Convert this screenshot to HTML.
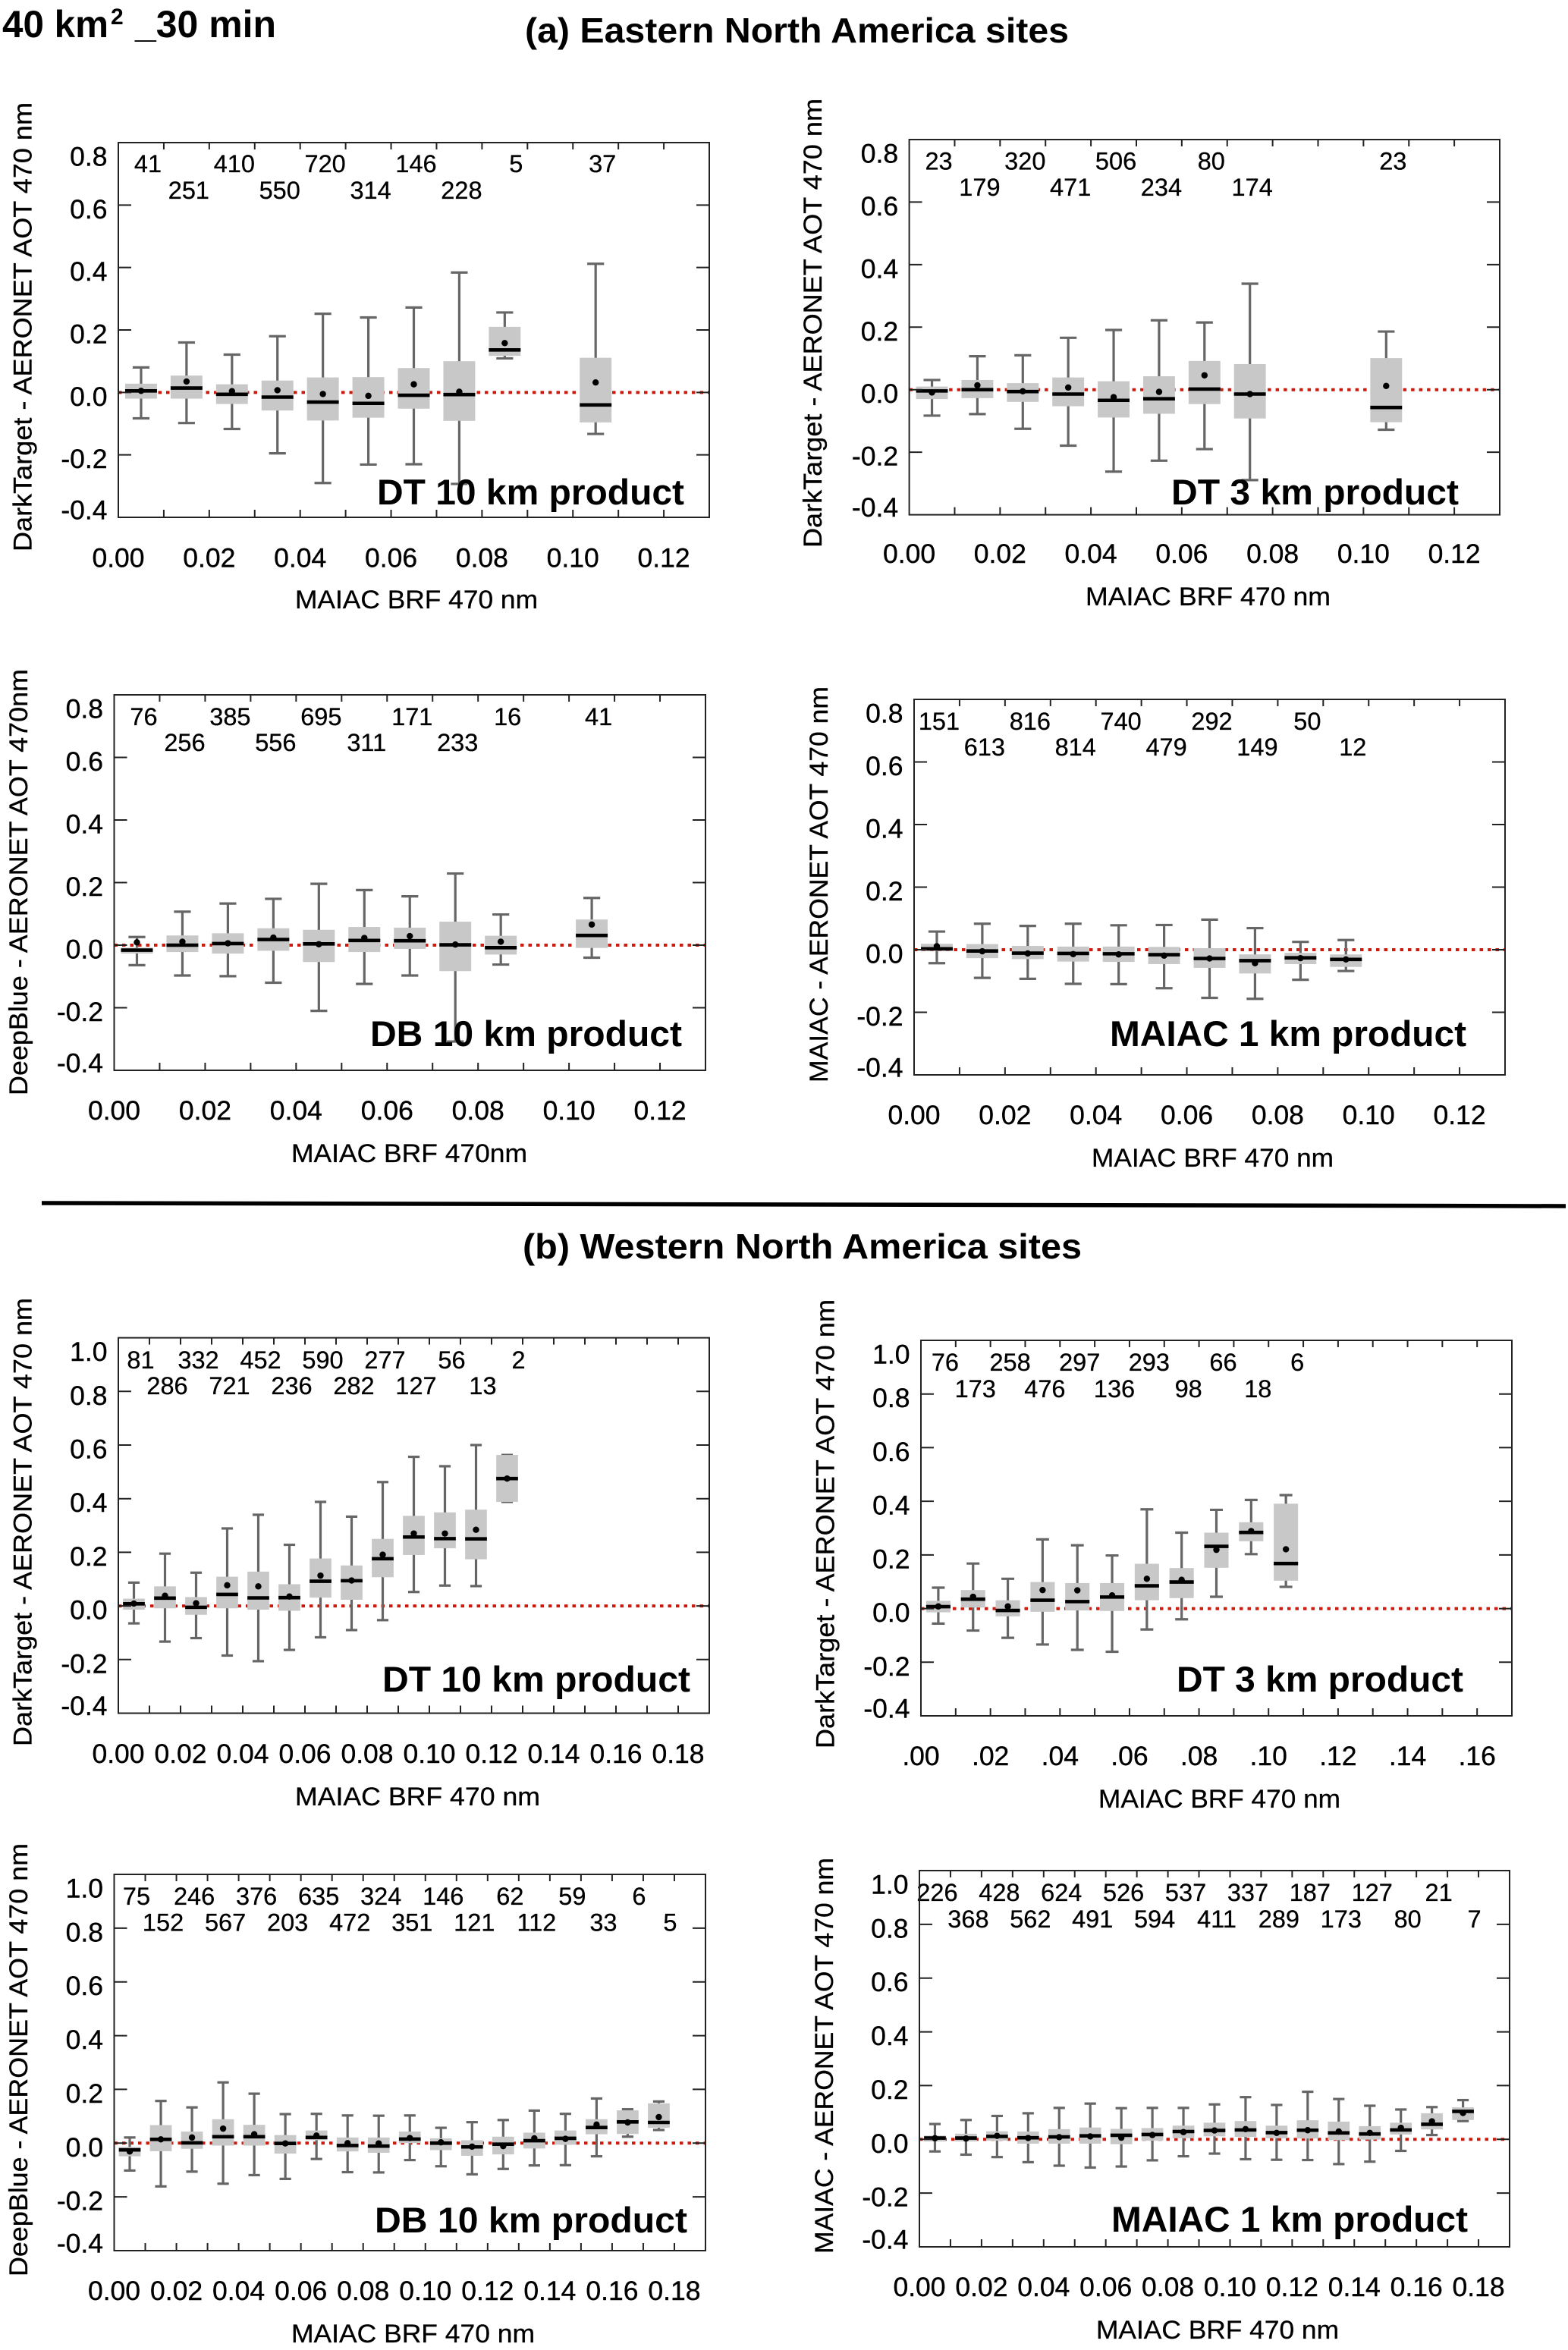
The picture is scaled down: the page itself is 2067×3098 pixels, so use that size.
<!DOCTYPE html>
<html lang="en">
<head>
<meta charset="utf-8">
<title>MAIAC BRF versus AOT differences, 40 km² 30 min</title>
<style>
html,body{margin:0;padding:0;background:#fff;}
svg{display:block;font-family:"Liberation Sans",sans-serif;}
.tick-label{font-size:35.5px;fill:#000;stroke:#000;stroke-width:.4px;}
.n-label{font-size:32.5px;fill:#000;stroke:#000;stroke-width:.3px;text-anchor:middle;}
.axis-title{font-size:34px;fill:#000;stroke:#000;stroke-width:.3px;}
.product{font-size:47px;font-weight:bold;fill:#000;}
.heading{font-size:46px;font-weight:bold;fill:#000;}
</style>
</head>
<body>
<svg id="figure" xmlns="http://www.w3.org/2000/svg" width="2067" height="3098" viewBox="0 0 2067 3098">
<rect x="0" y="0" width="2067" height="3098" fill="#fff"/>

<g>
<text x="3" y="49" font-size="50" font-weight="bold" textLength="140" lengthAdjust="spacingAndGlyphs">40 km</text>
<text x="146" y="32" font-size="30" font-weight="bold">2</text>
<text x="178" y="49" font-size="50" font-weight="bold" textLength="186" lengthAdjust="spacingAndGlyphs">_30 min</text>
</g>
<text class="heading" x="692" y="56" textLength="717" lengthAdjust="spacingAndGlyphs">(a) Eastern North America sites</text>
<line x1="55" y1="1586" x2="2064" y2="1590" stroke="#000" stroke-width="5.5"/>
<text class="heading" x="689" y="1659" textLength="737" lengthAdjust="spacingAndGlyphs">(b) Western North America sites</text>

<g>
<g id="plot-a1"></g>
<text class="axis-title" transform="translate(41.5 727) rotate(-90)" textLength="592" lengthAdjust="spacingAndGlyphs">DarkTarget - AERONET AOT 470 nm</text>
<text class="axis-title" x="389" y="802" textLength="320" lengthAdjust="spacingAndGlyphs">MAIAC BRF 470 nm</text>
<text class="product" x="497" y="665" textLength="405" lengthAdjust="spacingAndGlyphs">DT 10 km product</text>
</g>

<g>
<g id="plot-a2"></g>
<text class="axis-title" transform="translate(1083 722) rotate(-90)" textLength="592" lengthAdjust="spacingAndGlyphs">DarkTarget - AERONET AOT 470 nm</text>
<text class="axis-title" x="1431" y="798" textLength="323" lengthAdjust="spacingAndGlyphs">MAIAC BRF 470 nm</text>
<text class="product" x="1544" y="665" textLength="379" lengthAdjust="spacingAndGlyphs">DT 3 km product</text>
</g>

<g>
<g id="plot-a3"></g>
<text class="axis-title" transform="translate(36 1444) rotate(-90)" textLength="562" lengthAdjust="spacingAndGlyphs">DeepBlue - AERONET AOT 470nm</text>
<text class="axis-title" x="384" y="1532" textLength="311" lengthAdjust="spacingAndGlyphs">MAIAC BRF 470nm</text>
<text class="product" x="488" y="1379" textLength="411" lengthAdjust="spacingAndGlyphs">DB 10 km product</text>
</g>

<g>
<g id="plot-a4"></g>
<text class="axis-title" transform="translate(1091 1427) rotate(-90)" textLength="522" lengthAdjust="spacingAndGlyphs">MAIAC - AERONET AOT 470 nm</text>
<text class="axis-title" x="1439" y="1538" textLength="319" lengthAdjust="spacingAndGlyphs">MAIAC BRF 470 nm</text>
<text class="product" x="1463" y="1379" textLength="470" lengthAdjust="spacingAndGlyphs">MAIAC  1 km product</text>
</g>

<g>
<g id="plot-b1"></g>
<text class="axis-title" transform="translate(41.5 2302) rotate(-90)" textLength="591" lengthAdjust="spacingAndGlyphs">DarkTarget - AERONET AOT 470 nm</text>
<text class="axis-title" x="389" y="2380" textLength="323" lengthAdjust="spacingAndGlyphs">MAIAC BRF 470 nm</text>
<text class="product" x="504" y="2230" textLength="406" lengthAdjust="spacingAndGlyphs">DT 10 km product</text>
</g>

<g>
<g id="plot-b2"></g>
<text class="axis-title" transform="translate(1099.5 2305) rotate(-90)" textLength="592" lengthAdjust="spacingAndGlyphs">DarkTarget - AERONET AOT 470 nm</text>
<text class="axis-title" x="1448" y="2383" textLength="319" lengthAdjust="spacingAndGlyphs">MAIAC BRF 470 nm</text>
<text class="product" x="1551" y="2230" textLength="378" lengthAdjust="spacingAndGlyphs">DT 3 km product</text>
</g>

<g>
<g id="plot-b3"></g>
<text class="axis-title" transform="translate(36 3001) rotate(-90)" textLength="571" lengthAdjust="spacingAndGlyphs">DeepBlue - AERONET AOT 470 nm</text>
<text class="axis-title" x="384" y="3088" textLength="321" lengthAdjust="spacingAndGlyphs">MAIAC BRF 470 nm</text>
<text class="product" x="494" y="2943" textLength="412" lengthAdjust="spacingAndGlyphs">DB 10 km product</text>
</g>

<g>
<g id="plot-b4"></g>
<text class="axis-title" transform="translate(1098 2971) rotate(-90)" textLength="522" lengthAdjust="spacingAndGlyphs">MAIAC - AERONET AOT 470 nm</text>
<text class="axis-title" x="1445" y="3083" textLength="320" lengthAdjust="spacingAndGlyphs">MAIAC BRF 470 nm</text>
<text class="product" x="1465" y="2942" textLength="470" lengthAdjust="spacingAndGlyphs">MAIAC  1 km product</text>
</g>
</svg>

<script>
// ---- tick labels ----
const xLabels13 = ['0.00','0.02','0.04','0.06','0.08','0.10','0.12'];
const xValues13 = [0,0.02,0.04,0.06,0.08,0.10,0.12];
const xLabels19 = ['0.00','0.02','0.04','0.06','0.08','0.10','0.12','0.14','0.16','0.18'];
const xValues19 = [0,0.02,0.04,0.06,0.08,0.10,0.12,0.14,0.16,0.18];
const xLabels17 = ['.00','.02','.04','.06','.08','.10','.12','.14','.16'];
const xValues17 = [0,0.02,0.04,0.06,0.08,0.10,0.12,0.14,0.16];
const yLabelsA = ['0.8','0.6','0.4','0.2','0.0','-0.2','-0.4'];
const yValuesA = [0.8,0.6,0.4,0.2,0,-0.2,-0.4];
const yLabelsB = ['1.0','0.8','0.6','0.4','0.2','0.0','-0.2','-0.4'];
const yValuesB = [1.0,0.8,0.6,0.4,0.2,0,-0.2,-0.4];

// ---- (a) DT 10 km ----
const a1Bins = [0.005,0.015,0.025,0.035,0.045,0.055,0.065,0.075,0.085,0.105];
const a1N    = [41,251,410,550,720,314,146,228,5,37];
const a1Hi   = [0.08,0.16,0.121,0.18,0.252,0.24,0.272,0.384,0.256,0.412];
const a1Q3   = [0.028,0.054,0.026,0.038,0.048,0.049,0.078,0.1,0.21,0.111];
const a1Med  = [0.005,0.014,-0.006,-0.015,-0.031,-0.035,-0.009,-0.007,0.136,-0.04];
const a1Q1   = [-0.02,-0.02,-0.037,-0.058,-0.09,-0.081,-0.052,-0.091,0.117,-0.096];
const a1Lo   = [-0.083,-0.098,-0.117,-0.195,-0.29,-0.231,-0.23,-0.293,0.109,-0.133];
const a1Mean = [0.005,0.035,0.004,0.007,-0.005,-0.011,0.026,0.002,0.158,0.032];

// ---- (a) DT 3 km ----
const a2Bins = [0.005,0.015,0.025,0.035,0.045,0.055,0.065,0.075,0.105];
const a2N    = [23,179,320,471,506,234,80,174,23];
const a2Hi   = [0.031,0.107,0.11,0.166,0.191,0.222,0.215,0.339,0.186];
const a2Q3   = [0.01,0.031,0.021,0.039,0.027,0.043,0.092,0.082,0.101];
const a2Med  = [-0.004,0,-0.006,-0.014,-0.034,-0.029,0.002,-0.014,-0.057];
const a2Q1   = [-0.03,-0.027,-0.039,-0.053,-0.089,-0.077,-0.046,-0.092,-0.104];
const a2Lo   = [-0.083,-0.078,-0.125,-0.179,-0.262,-0.227,-0.19,-0.289,-0.128];
const a2Mean = [-0.009,0.014,-0.005,0.007,-0.024,-0.007,0.046,-0.014,0.012];

// ---- (a) DB 10 km ----
const a3Bins = [0.005,0.015,0.025,0.035,0.045,0.055,0.065,0.075,0.085,0.105];
const a3N    = [76,256,385,556,695,311,171,233,16,41];
const a3Hi   = [0.026,0.107,0.133,0.148,0.196,0.176,0.156,0.229,0.098,0.151];
const a3Q3   = [-0.008,0.031,0.038,0.054,0.049,0.058,0.056,0.075,0.03,0.082];
const a3Med  = [-0.016,0,0.005,0.018,0.004,0.015,0.014,0.001,-0.008,0.031];
const a3Q1   = [-0.027,-0.022,-0.027,-0.018,-0.054,-0.022,-0.012,-0.083,-0.03,-0.009];
const a3Lo   = [-0.064,-0.097,-0.099,-0.12,-0.21,-0.124,-0.097,-0.308,-0.062,-0.04];
const a3Mean = [0.009,0.011,0.006,0.024,0.003,0.023,0.029,0.002,0.011,0.066];

// ---- (a) MAIAC 1 km ----
const a4Bins = [0.005,0.015,0.025,0.035,0.045,0.055,0.065,0.075,0.085,0.095];
const a4N    = [151,613,816,814,740,479,292,149,50,12];
const a4Hi   = [0.058,0.083,0.076,0.083,0.078,0.079,0.096,0.069,0.025,0.031];
const a4Q3   = [0.019,0.018,0.012,0.01,0.01,0.009,0.005,-0.015,-0.01,-0.015];
const a4Med  = [0.003,-0.004,-0.011,-0.012,-0.013,-0.016,-0.028,-0.035,-0.026,-0.031];
const a4Q1   = [-0.004,-0.027,-0.03,-0.038,-0.039,-0.046,-0.058,-0.076,-0.046,-0.055];
const a4Lo   = [-0.043,-0.09,-0.093,-0.109,-0.11,-0.123,-0.154,-0.157,-0.096,-0.068];
const a4Mean = [0.011,-0.005,-0.012,-0.014,-0.015,-0.019,-0.028,-0.043,-0.027,-0.031];

// ---- (b) DT 10 km ----
const b1Bins = [0.005,0.015,0.025,0.035,0.045,0.055,0.065,0.075,0.085,0.095,0.105,0.115,0.125];
const b1N    = [81,286,332,721,452,236,590,282,277,127,56,13,2];
const b1Hi   = [0.087,0.195,0.124,0.289,0.34,0.228,0.388,0.333,0.462,0.556,0.521,0.6,0.563];
const b1Q3   = [0.027,0.073,0.033,0.109,0.128,0.081,0.177,0.151,0.25,0.336,0.349,0.359,0.563];
const b1Med  = [0.008,0.029,-0.005,0.043,0.03,0.031,0.092,0.094,0.176,0.257,0.251,0.25,0.475];
const b1Q1   = [-0.014,-0.009,-0.033,-0.009,-0.014,-0.018,0.031,0.023,0.107,0.19,0.215,0.174,0.388];
const b1Lo   = [-0.065,-0.133,-0.12,-0.185,-0.206,-0.164,-0.117,-0.09,-0.053,0.052,0.076,0.074,0.388];
const b1Mean = [0.009,0.038,0.01,0.077,0.073,0.035,0.113,0.095,0.191,0.27,0.27,0.284,0.475];

// ---- (b) DT 3 km ----
const b2Bins = [0.005,0.015,0.025,0.035,0.045,0.055,0.065,0.075,0.085,0.095,0.105];
const b2N    = [76,173,258,476,297,136,293,98,66,18,6];
const b2Hi   = [0.078,0.168,0.111,0.258,0.236,0.198,0.37,0.283,0.368,0.405,0.423];
const b2Q3   = [0.029,0.069,0.031,0.099,0.095,0.095,0.167,0.151,0.283,0.322,0.391];
const b2Med  = [0.007,0.035,-0.007,0.031,0.026,0.043,0.085,0.099,0.232,0.284,0.168];
const b2Q1   = [-0.014,0.004,-0.029,-0.012,-0.007,-0.009,0.031,0.039,0.152,0.251,0.104];
const b2Lo   = [-0.056,-0.082,-0.109,-0.134,-0.154,-0.161,-0.078,-0.04,0.044,0.203,0.081];
const b2Mean = [0.008,0.044,0.008,0.069,0.068,0.049,0.111,0.107,0.219,0.289,0.221];

// ---- (b) DB 10 km ----
const b3Bins = [0.005,0.015,0.025,0.035,0.045,0.055,0.065,0.075,0.085,0.095,0.105,0.115,0.125,0.135,0.145,0.155,0.165,0.175];
const b3N    = [75,152,246,567,376,203,635,472,324,351,146,121,62,112,59,33,6,5];
const b3Hi   = [0.021,0.157,0.133,0.226,0.184,0.108,0.109,0.103,0.102,0.103,0.057,0.078,0.086,0.121,0.109,0.166,0.126,0.155];
const b3Q3   = [-0.014,0.067,0.043,0.089,0.068,0.03,0.047,0.021,0.021,0.043,0.018,0.011,0.024,0.039,0.047,0.089,0.122,0.148];
const b3Med  = [-0.025,0.014,0.001,0.024,0.024,-0.001,0.021,-0.009,-0.011,0.015,0,-0.014,-0.004,0.009,0.018,0.058,0.079,0.077];
const b3Q1   = [-0.049,-0.03,-0.021,-0.009,-0.009,-0.039,0.011,-0.031,-0.036,0,-0.026,-0.047,-0.042,-0.02,-0.006,0.033,0.034,0.057];
const b3Lo   = [-0.102,-0.161,-0.106,-0.151,-0.119,-0.133,-0.059,-0.108,-0.109,-0.063,-0.086,-0.116,-0.096,-0.083,-0.082,-0.049,0.024,0.049];
const b3Mean = [-0.031,0.014,0.021,0.054,0.033,-0.001,0.028,0,-0.001,0.019,0.003,-0.013,-0.011,0.018,0.016,0.069,0.077,0.097];

// ---- (b) MAIAC 1 km ----
const b4Bins = [0.005,0.015,0.025,0.035,0.045,0.055,0.065,0.075,0.085,0.095,0.105,0.115,0.125,0.135,0.145,0.155,0.165,0.175];
const b4N    = [226,368,428,562,624,491,526,594,537,411,337,289,187,173,127,80,21,7];
const b4Hi   = [0.057,0.072,0.087,0.097,0.117,0.133,0.116,0.117,0.117,0.13,0.157,0.128,0.177,0.15,0.125,0.111,0.12,0.146];
const b4Q3   = [0.014,0.021,0.03,0.029,0.038,0.044,0.039,0.042,0.051,0.062,0.068,0.051,0.071,0.066,0.049,0.062,0.097,0.119];
const b4Med  = [0.005,0.005,0.011,0.006,0.009,0.013,0.015,0.018,0.029,0.033,0.035,0.025,0.034,0.024,0.02,0.035,0.056,0.104];
const b4Q1   = [-0.008,-0.008,-0.005,-0.016,-0.016,-0.016,-0.018,-0.005,0.004,0.011,0.009,0.004,0.003,-0.003,-0.001,0.018,0.037,0.072];
const b4Lo   = [-0.045,-0.057,-0.066,-0.085,-0.098,-0.105,-0.101,-0.078,-0.063,-0.053,-0.074,-0.076,-0.077,-0.092,-0.083,-0.043,0.016,0.068];
const b4Mean = [0.004,0.003,0.013,0.005,0.008,0.011,0.006,0.016,0.027,0.033,0.038,0.024,0.034,0.029,0.024,0.043,0.067,0.098];

// ---- frames (layout only) ----
const frames = [
  {id:'plot-a1',l:156,r:935,t:188,b:682,xMax:0.13,yMax:0.8,xv:xValues13,xl:xLabels13,yv:yValuesA,yl:yLabelsA,xb:747.5,r1:227,r2:262,
   bins:a1Bins,n:a1N,hi:a1Hi,q3:a1Q3,med:a1Med,q1:a1Q1,lo:a1Lo,mean:a1Mean},
  {id:'plot-a2',l:1198.6,r:1977,t:184,b:678.6,xMax:0.13,yMax:0.8,xv:xValues13,xl:xLabels13,yv:yValuesA,yl:yLabelsA,xb:742,r1:223.5,r2:258,
   bins:a2Bins,n:a2N,hi:a2Hi,q3:a2Q3,med:a2Med,q1:a2Q1,lo:a2Lo,mean:a2Mean},
  {id:'plot-a3',l:150.5,r:930,t:916,b:1411,xMax:0.13,yMax:0.8,xv:xValues13,xl:xLabels13,yv:yValuesA,yl:yLabelsA,xb:1476,r1:956,r2:990,
   bins:a3Bins,n:a3N,hi:a3Hi,q3:a3Q3,med:a3Med,q1:a3Q1,lo:a3Lo,mean:a3Mean},
  {id:'plot-a4',l:1205,r:1984,t:922,b:1417,xMax:0.13,yMax:0.8,xv:xValues13,xl:xLabels13,yv:yValuesA,yl:yLabelsA,xb:1482,r1:962,r2:996,
   bins:a4Bins,n:a4N,hi:a4Hi,q3:a4Q3,med:a4Med,q1:a4Q1,lo:a4Lo,mean:a4Mean},
  {id:'plot-b1',l:156,r:935,t:1763.6,b:2258.5,xMax:0.19,yMax:1.0,xv:xValues19,xl:xLabels19,yv:yValuesB,yl:yLabelsB,xb:2324,r1:1804,r2:1838,
   bins:b1Bins,n:b1N,hi:b1Hi,q3:b1Q3,med:b1Med,q1:b1Q1,lo:b1Lo,mean:b1Mean},
  {id:'plot-b2',l:1214,r:1993,t:1767,b:2262,xMax:0.17,yMax:1.0,xv:xValues17,xl:xLabels17,yv:yValuesB,yl:yLabelsB,xb:2327,r1:1807,r2:1842,
   bins:b2Bins,n:b2N,hi:b2Hi,q3:b2Q3,med:b2Med,q1:b2Q1,lo:b2Lo,mean:b2Mean},
  {id:'plot-b3',l:150.5,r:930,t:2471,b:2967,xMax:0.19,yMax:1.0,xv:xValues19,xl:xLabels19,yv:yValuesB,yl:yLabelsB,xb:3032,r1:2511,r2:2545.6,
   bins:b3Bins,n:b3N,hi:b3Hi,q3:b3Q3,med:b3Med,q1:b3Q1,lo:b3Lo,mean:b3Mean},
  {id:'plot-b4',l:1212,r:1990,t:2466,b:2962,xMax:0.19,yMax:1.0,xv:xValues19,xl:xLabels19,yv:yValuesB,yl:yLabelsB,xb:3027,r1:2506,r2:2541,
   bins:b4Bins,n:b4N,hi:b4Hi,q3:b4Q3,med:b4Med,q1:b4Q1,lo:b4Lo,mean:b4Mean}
];

const SVGNS = 'http://www.w3.org/2000/svg';
function mk(parent, tag, attrs, text) {
  const e = document.createElementNS(SVGNS, tag);
  for (const k in attrs) e.setAttribute(k, attrs[k]);
  if (text !== undefined) e.textContent = text;
  parent.appendChild(e);
  return e;
}

function drawPanel(f) {
  const g = document.getElementById(f.id);
  const yMin = -0.4;
  const xs = v => f.l + (v / f.xMax) * (f.r - f.l);
  const ys = v => f.t + ((f.yMax - v) / (f.yMax - yMin)) * (f.b - f.t);
  const binW = xs(0.01) - xs(0);
  const boxW = binW * 0.7;
  const capW = binW * 0.37;

  // zero reference line
  const zero = mk(g, 'line', {x1:f.l, x2:f.r, y1:ys(0), y2:ys(0), stroke:'#cc1a0e', 'stroke-width':4, 'stroke-dasharray':'4.5 6'});
  
  

  f.bins.forEach((bin, i) => {
    const cx = xs(bin);
    const box = mk(g, 'g', {});
    
    

    const whisker = mk(box, 'line', {x1:cx, x2:cx, y1:ys(f.hi[i]), y2:ys(f.lo[i]), stroke:'#666', 'stroke-width':3.2});
    
    

    const capHi = mk(box, 'line', {x1:cx - capW/2, x2:cx + capW/2, y1:ys(f.hi[i]), y2:ys(f.hi[i]), stroke:'#666', 'stroke-width':3.2});
    
    

    const capLo = mk(box, 'line', {x1:cx - capW/2, x2:cx + capW/2, y1:ys(f.lo[i]), y2:ys(f.lo[i]), stroke:'#666', 'stroke-width':3.2});
    
    

    const iqr = mk(box, 'rect', {x:cx - boxW/2, y:ys(f.q3[i]), width:boxW, height:ys(f.q1[i]) - ys(f.q3[i]), fill:'#c8c8c8'});
    
    

    const median = mk(box, 'line', {x1:cx - boxW/2, x2:cx + boxW/2, y1:ys(f.med[i]), y2:ys(f.med[i]), stroke:'#000', 'stroke-width':4.6});
    
    

    const mean = mk(box, 'circle', {cx:cx, cy:ys(f.mean[i]), r:4.2, fill:'#000'});
    
    

    // sample count: alternating rows by bin index
    const label = String(f.n[i]);
    const row = Math.floor(bin / 0.01 + 1e-6) % 2 === 0 ? f.r1 : f.r2;
    const nText = mk(g, 'text', {x:cx + 3 + 6 * (3 - label.length), y:row, class:'n-label'}, label);
    
    
  });

  // frame
  const frame = mk(g, 'rect', {x:f.l, y:f.t, width:f.r - f.l, height:f.b - f.t, fill:'none', stroke:'#222', 'stroke-width':2});
  
  

  // x ticks each 0.01, top and bottom
  const nX = Math.round(f.xMax / 0.01);
  for (let k = 1; k < nX; k++) {
    const px = xs(k * 0.01);
    const tb = mk(g, 'line', {x1:px, x2:px, y1:f.b, y2:f.b - 10, stroke:'#222', 'stroke-width':2});
    
    
    const tt = mk(g, 'line', {x1:px, x2:px, y1:f.t, y2:f.t + 9, stroke:'#222', 'stroke-width':2});
    
    
  }
  f.xv.forEach((v, i) => {
    const t = mk(g, 'text', {x:xs(v), y:f.xb, 'text-anchor':'middle', class:'tick-label'}, f.xl[i]);
    
    
  });

  // y ticks and labels
  f.yv.forEach((v, i) => {
    const py = ys(v);
    const isTop = i === 0;
    const isBottom = i === f.yv.length - 1;
    if (!isTop && !isBottom) {
      const tl = mk(g, 'line', {x1:f.l, x2:f.l + 17, y1:py, y2:py, stroke:'#222', 'stroke-width':2});
      
      
      const tr = mk(g, 'line', {x1:f.r, x2:f.r - 17, y1:py, y2:py, stroke:'#222', 'stroke-width':2});
      
      
    }
    const baseline = isTop ? py + 30.5 : isBottom ? py + 2.5 : py + 17.5;
    const t = mk(g, 'text', {x:f.l - 14.5, y:baseline, 'text-anchor':'end', class:'tick-label'}, f.yl[i]);
    
    
  });
}

frames.forEach(drawPanel);
</script>
</body>
</html>
